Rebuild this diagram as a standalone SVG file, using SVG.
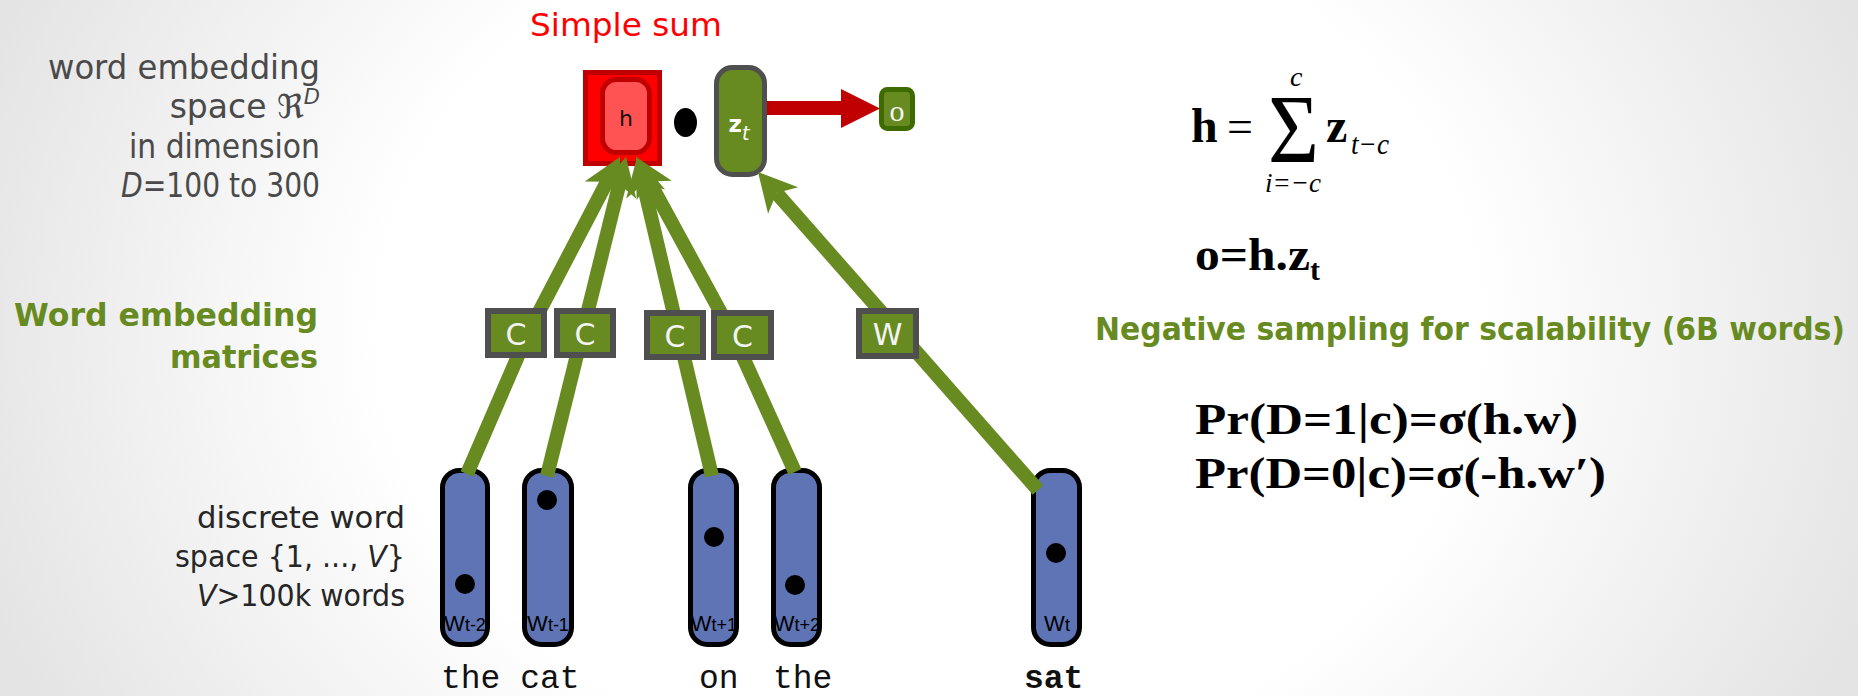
<svg xmlns="http://www.w3.org/2000/svg" width="1858" height="696" viewBox="0 0 1858 696">
  <defs>
    <radialGradient id="bgGrad" gradientUnits="userSpaceOnUse" cx="929" cy="330" r="1000" gradientTransform="translate(929 330) scale(1 0.8) translate(-929 -330)">
      <stop offset="0.55" stop-color="#ffffff"/>
      <stop offset="1" stop-color="#e4e4e4"/>
    </radialGradient>
    <marker id="ah" markerUnits="userSpaceOnUse" markerWidth="40" markerHeight="42" viewBox="0 -21 40 42" refX="10" refY="0" orient="auto" overflow="visible">
      <path d="M38,0 L0,-20 L10,0 L0,20 Z" fill="#678b21"/>
    </marker>
    <style>
      .note { font-family: "DejaVu Sans", "Liberation Sans", sans-serif; font-size: 33px; fill: #4a4a4a; text-anchor: end; }
      .note2 { font-family: "DejaVu Sans", "Liberation Sans", sans-serif; font-size: 31px; fill: #262626; text-anchor: end; }
      .green-title { font-family: "DejaVu Sans", "Liberation Sans", sans-serif; font-size: 32px; font-weight: bold; fill: #678b21; }
      .mat { fill: #678b21; stroke: #4f4f4f; stroke-width: 6; }
      .mat-label { font-family: "DejaVu Sans", "Liberation Sans", sans-serif; font-size: 30px; fill: #f4f4f4; text-anchor: middle; }
      .word { fill: #5e74b4; stroke: #000000; stroke-width: 5; }
      .word-label { font-family: "Liberation Sans", Arial, sans-serif; font-size: 21px; fill: #000000; text-anchor: middle; }
      .pt { fill: #000000; }
      .token { font-family: "Liberation Mono", "Courier New", monospace; font-size: 33px; fill: #111111; }
      .link { fill: none; stroke: #678b21; stroke-width: 14; stroke-linejoin: round; marker-end: url(#ah); }
      .math { font-family: "Liberation Serif", "Times New Roman", serif; fill: #000000; }
    </style>
  </defs>

  <!-- background -->
  <rect x="0" y="0" width="1858" height="696" fill="url(#bgGrad)"/>

  <!-- left-hand annotations -->
  <g id="label-embedding-space">
    <text class="note" x="320" y="79" textLength="272" lengthAdjust="spacingAndGlyphs">word embedding</text>
    <text class="note" x="320" y="118">space ℜ<tspan font-style="italic" font-size="21" dy="-14">D</tspan></text>
    <text class="note" x="320" y="158" textLength="191" lengthAdjust="spacingAndGlyphs">in dimension</text>
    <text class="note" x="320" y="197" textLength="199" lengthAdjust="spacingAndGlyphs"><tspan font-style="italic">D</tspan>=100 to 300</text>
  </g>
  <g id="label-matrices">
    <text class="green-title" x="318" y="326" text-anchor="end" textLength="304" lengthAdjust="spacingAndGlyphs">Word embedding</text>
    <text class="green-title" x="318" y="368" text-anchor="end" textLength="148" lengthAdjust="spacingAndGlyphs">matrices</text>
  </g>
  <g id="label-discrete-space">
    <text class="note2" x="405" y="528" textLength="208" lengthAdjust="spacingAndGlyphs">discrete word</text>
    <text class="note2" x="405" y="567" textLength="230" lengthAdjust="spacingAndGlyphs">space {1, ..., <tspan font-style="italic">V</tspan>}</text>
    <text class="note2" x="405" y="606" textLength="208" lengthAdjust="spacingAndGlyphs"><tspan font-style="italic">V</tspan>&gt;100k words</text>
  </g>

  <!-- title over the sum node -->
  <g id="label-simple-sum">
    <text x="530" y="36" font-family="DejaVu Sans, Liberation Sans, sans-serif" font-size="32" fill="#ff0000" textLength="192" lengthAdjust="spacingAndGlyphs">Simple sum</text>
  </g>

  <!-- summed context vector h -->
  <g id="node-h">
    <rect x="585.5" y="72.5" width="74" height="91" fill="#ff0000" stroke="#c00000" stroke-width="5"/>
    <rect x="602.5" y="79.5" width="47" height="73" rx="14" fill="#ff5252" stroke="#c00000" stroke-width="5"/>
    <text x="626" y="126" font-family="DejaVu Sans, Liberation Sans, sans-serif" font-size="22" fill="#111111" text-anchor="middle">h</text>
  </g>

  <!-- dot product -->
  <g id="node-dot">
    <ellipse class="pt" cx="685.5" cy="122.5" rx="11.5" ry="14.5"/>
  </g>

  <!-- target vector z_t -->
  <g id="node-zt">
    <rect x="716.5" y="67.5" width="48" height="107" rx="16" fill="#678b21" stroke="#4f4f4f" stroke-width="5"/>
    <text x="739" y="132" font-family="DejaVu Sans, Liberation Sans, sans-serif" fill="#ffffff" text-anchor="middle"><tspan font-size="23" font-weight="bold">z</tspan><tspan font-size="19" font-style="italic" dy="8">t</tspan></text>
  </g>

  <!-- output o -->
  <g id="node-o">
    <rect x="881.5" y="89.5" width="31" height="39" rx="6" fill="#678b21" stroke="#3d6b00" stroke-width="5"/>
    <text x="897" y="121" font-family="Liberation Serif, Times New Roman, serif" font-size="30" fill="#f4f4f4" text-anchor="middle">o</text>
  </g>

  <!-- one-hot word columns -->
  <g id="node-w-t-2">
    <rect class="word" x="442.5" y="470.5" width="45" height="174" rx="17"/>
    <ellipse class="pt" cx="465" cy="584" rx="10" ry="10"/>
    <text class="word-label" x="465" y="631"><tspan font-size="22">W</tspan><tspan font-size="18">t-2</tspan></text>
  </g>
  <g id="node-w-t-1">
    <rect class="word" x="524.5" y="470.5" width="47" height="174" rx="17"/>
    <ellipse class="pt" cx="547" cy="500" rx="10" ry="10"/>
    <text class="word-label" x="548" y="631"><tspan font-size="22">W</tspan><tspan font-size="18">t-1</tspan></text>
  </g>
  <g id="node-w-t+1">
    <rect class="word" x="690.5" y="470.5" width="46" height="174" rx="17"/>
    <ellipse class="pt" cx="714" cy="537" rx="10" ry="10"/>
    <text class="word-label" x="714" y="631"><tspan font-size="22">W</tspan><tspan font-size="18">t+1</tspan></text>
  </g>
  <g id="node-w-t+2">
    <rect class="word" x="773.5" y="470.5" width="46" height="174" rx="17"/>
    <ellipse class="pt" cx="795" cy="585" rx="10" ry="10"/>
    <text class="word-label" x="797" y="631"><tspan font-size="22">W</tspan><tspan font-size="18">t+2</tspan></text>
  </g>
  <g id="node-w-t">
    <rect class="word" x="1033.5" y="470.5" width="46" height="174" rx="17"/>
    <ellipse class="pt" cx="1056" cy="553" rx="10" ry="10"/>
    <text class="word-label" x="1057" y="631"><tspan font-size="22">W</tspan><tspan font-size="18">t</tspan></text>
  </g>

  <!-- connectors: word columns through the matrices into h and z_t -->
  <g id="connectors">
    <path class="link" d="M467,474 L528,333 L607,181.8"/>
    <path class="link" d="M547,476 L619.3,184.2"/>
    <path class="link" d="M712,476 L643.4,184.3"/>
    <path class="link" d="M795,472 L733,335 L649.4,181.6"/>
    <path class="link" d="M1038,490 L776.5,193"/>
    <path d="M767,101 L841,101 L841,89 L880,108.5 L841,128 L841,115 L767,115 Z" fill="#c00000"/>
  </g>

  <!-- embedding matrices -->
  <g id="node-c1">
    <rect class="mat" x="488" y="311" width="56" height="44"/>
    <text class="mat-label" x="516" y="345">C</text>
  </g>
  <g id="node-c2">
    <rect class="mat" x="557" y="311" width="56" height="44"/>
    <text class="mat-label" x="585" y="345">C</text>
  </g>
  <g id="node-c3">
    <rect class="mat" x="647" y="313" width="56" height="44"/>
    <text class="mat-label" x="675" y="347">C</text>
  </g>
  <g id="node-c4">
    <rect class="mat" x="714" y="313" width="57" height="44"/>
    <text class="mat-label" x="742.5" y="347">C</text>
  </g>
  <g id="node-w">
    <rect class="mat" x="859" y="311" width="57" height="45"/>
    <text class="mat-label" x="887.5" y="345">W</text>
  </g>

  <!-- sentence tokens -->
  <g id="tokens">
    <text class="token" x="441" y="688">the cat</text>
    <text class="token" x="699" y="688">on</text>
    <text class="token" x="773" y="688">the</text>
    <text class="token" x="1024" y="688" font-weight="bold">sat</text>
  </g>

  <!-- equations -->
  <g id="eq-sum" class="math">
    <text x="1191" y="142" font-size="48" font-weight="bold">h</text>
    <text x="1227" y="142" font-size="46">=</text>
    <text x="1268" y="162" font-size="98" textLength="51" lengthAdjust="spacingAndGlyphs">Σ</text>
    <text x="1290" y="86" font-size="28" font-style="italic">c</text>
    <text x="1265" y="192" font-size="28" font-style="italic" textLength="56" lengthAdjust="spacingAndGlyphs">i=−c</text>
    <text x="1326" y="142" font-size="48" font-weight="bold">z</text>
    <text x="1351" y="154" font-size="30" font-style="italic" textLength="38" lengthAdjust="spacingAndGlyphs">t−c</text>
  </g>
  <g id="eq-output" class="math">
    <text x="1195" y="270" font-size="46" font-weight="bold" textLength="115" lengthAdjust="spacingAndGlyphs">o=h.z</text>
    <text x="1310" y="280" font-size="30" font-weight="bold">t</text>
  </g>
  <g id="label-negative-sampling">
    <text class="green-title" x="1095" y="340" font-size="29" textLength="750" lengthAdjust="spacingAndGlyphs">Negative sampling for scalability (6B words)</text>
  </g>
  <g id="eq-negative" class="math">
    <text x="1195" y="434" font-size="44" font-weight="bold" textLength="383" lengthAdjust="spacingAndGlyphs">Pr(D=1|c)=σ(h.w)</text>
    <text x="1195" y="488" font-size="44" font-weight="bold" textLength="411" lengthAdjust="spacingAndGlyphs">Pr(D=0|c)=σ(-h.w′)</text>
  </g>
</svg>
